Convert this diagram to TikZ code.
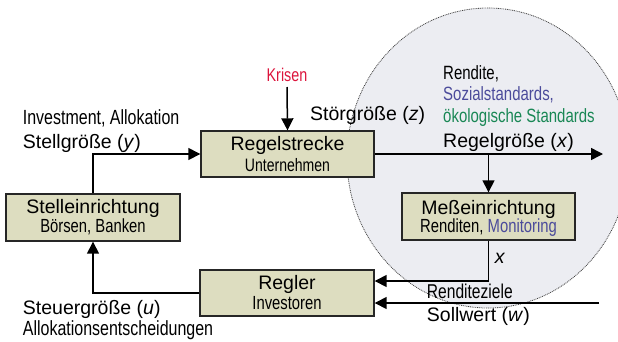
\documentclass[tikz,border=0pt]{standalone}
\usepackage{fontspec}
\setmainfont{Liberation Sans}
\newfontfamily\narrowfont{Liberation Sans}[FakeStretch=0.78]
\usetikzlibrary{arrows.meta}
\definecolor{boxfill}{RGB}{221,221,192}
\definecolor{ovalfill}{RGB}{236,237,242}
\definecolor{krisenred}{RGB}{220,20,60}
\definecolor{sozblue}{RGB}{75,75,155}
\definecolor{oekogreen}{RGB}{25,135,85}
\tikzset{
  blockbox/.style={draw=black!85, line width=1.4pt, fill=boxfill, inner sep=0pt, minimum width=173pt, minimum height=46pt},
  bigtxt/.style={font=\fontsize{19.5}{22}\selectfont, inner sep=0pt, anchor=base},
  bigl/.style={bigtxt, anchor=base west},
  subtxt/.style={font=\narrowfont\fontsize{19}{21}\selectfont, inner sep=0pt, anchor=base},
  smalll/.style={inner sep=0pt, anchor=base west},
  conn/.style={line width=1.5pt, -{Triangle[length=12pt,width=12pt]}},
  plainline/.style={line width=1.5pt}
}
\begin{document}
\begin{tikzpicture}[x=1pt,y=-1pt]
\useasboundingbox (0,0) rectangle (618,341);
% oval
\filldraw[fill=ovalfill, draw=black!75, line width=0.8pt, dash pattern=on 0.9pt off 0.9pt] (488,158) ellipse [x radius=141pt, y radius=150pt];

% boxes
\node[blockbox] (strecke) at (287.5,154) {};
\node[blockbox, minimum width=174pt, minimum height=47pt] (stell) at (93,217.5) {};
\node[blockbox, minimum width=174pt] (regler) at (287,293) {};
\node[blockbox, minimum height=47pt] (mess) at (488.5,216.5) {};

% box texts
\node[bigtxt] (t1) at ([yshift=-20.5pt]strecke.north) {Regelstrecke};
\node[subtxt, font=\narrowfont\fontsize{18}{20}\selectfont] (s1) at ([yshift=-41pt]strecke.north) {Unternehmen};
\node[bigtxt] (t2) at ([yshift=-20.5pt]stell.north) {Stelleinrichtung};
\node[subtxt] (s2) at ([yshift=-39.5pt]stell.north) {Börsen, Banken};
\node[bigtxt] (t3) at ([yshift=-20pt]regler.north) {Regler};
\node[subtxt] (s3) at ([yshift=-40pt]regler.north) {Investoren};
\node[bigtxt] (t4) at ([yshift=-22pt]mess.north) {Meßeinrichtung};
\node[subtxt] (s4) at ([yshift=-40.5pt]mess.north) {Renditen, \textcolor{sozblue}{Monitoring}};

% labels
\node[smalll, font=\narrowfont\fontsize{20.5}{23}\selectfont] (inv) at (22.7,124) {Investment, Allokation};
\node[bigl] (stellg) at (22.7,148.3) {Stellgröße (\textit{y})};
\node[inner sep=0pt, anchor=base, font=\narrowfont\fontsize{18.4}{21}\selectfont, text=krisenred] (krisen) at (287,81.7) {Krisen};
\node[bigl] (stoer) at (310,120.7) {Störgröße (\textit{z})};
\node[smalll, font=\narrowfont\fontsize{19.2}{22}\selectfont] (rend) at (443,79) {Rendite,};
\node[smalll, font=\narrowfont\fontsize{19.2}{22}\selectfont, text=sozblue] (soz) at (443,100) {Sozialstandards,};
\node[smalll, font=\narrowfont\fontsize{19.2}{22}\selectfont, text=oekogreen] (oeko) at (443,122.3) {ökologische Standards};
\node[bigl] (regelg) at (443,147.7) {Regelgröße (\textit{x})};
\node[bigtxt] (xlab) at (500,263.3) {\textit{x}};
\node[smalll, font=\narrowfont\fontsize{20}{23}\selectfont] (rziel) at (426.7,298.3) {Renditeziele};
\node[bigl] (soll) at (426.7,321.7) {Sollwert (\textit{w})};
\node[bigl] (steuer) at (22.7,314) {Steuergröße (\textit{u})};
\node[smalll, font=\narrowfont\fontsize{20.5}{23}\selectfont] (alloc) at (22.7,335) {Allokationsentscheidungen};

% free ends
\coordinate (kstart) at (287,87);
\coordinate (out) at (603,154);
\coordinate (branch) at (488.5,154);
\coordinate (swstart) at (599,303);

% connectors
\draw[conn] (kstart) -- (strecke.north);
\draw[conn] (stell.north) |- (strecke.west);
\draw[conn] (strecke.east) -- (out);
\draw[conn] (branch) -- (mess.north);
\draw[conn] (mess.south) |- ([yshift=12pt]regler.east);
\draw[conn] (swstart) -- ([yshift=-10pt]regler.east);
\draw[conn] (regler.west) -| (stell.south);
\end{tikzpicture}
\end{document}
